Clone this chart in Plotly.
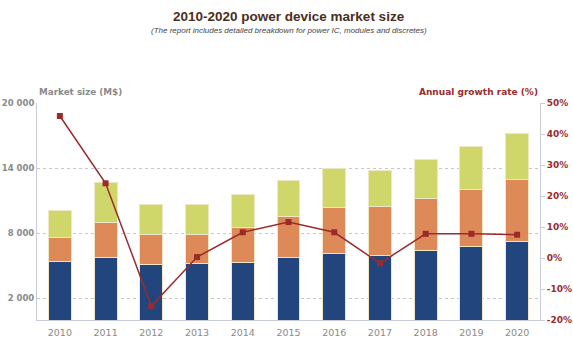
import plotly.graph_objects as go

years = ["2010", "2011", "2012", "2013", "2014", "2015", "2016", "2017", "2018", "2019", "2020"]
discretes = [5430, 5740, 5130, 5190, 5340, 5800, 6140, 5985, 6415, 6810, 7210]
modules = [2150, 3275, 2760, 2700, 3160, 3770, 4260, 4435, 4785, 5210, 5730]
power_ic = [2540, 3625, 2750, 2750, 3060, 3280, 3550, 3350, 3580, 3980, 4290]
growth = [45.8, 24.1, -15.5, 0.3, 8.3, 11.6, 8.3, -1.7, 7.8, 7.8, 7.5]

left_ticks = [2000, 8000, 14000, 20000]
left_ticktext = ["2 000", "8 000", "14 000", "20 000"]
right_ticks = [-20, -10, 0, 10, 20, 30, 40, 50]
right_ticktext = ["-20%", "-10%", "0%", "10%", "20%", "30%", "40%", "50%"]

blue = "#22457d"
orange = "#de8a58"
green = "#cfd66a"
red = "#9b2b2b"
sep = "#efe7c4"

fig = go.Figure()
for name, vals, col in [("Discretes", discretes, blue), ("Modules", modules, orange), ("Power IC", power_ic, green)]:
    fig.add_trace(go.Bar(x=years, y=vals, name=name, marker=dict(color=col, line=dict(color=sep, width=1)),
                         width=0.5, yaxis="y"))
fig.add_trace(go.Scatter(x=years, y=growth, yaxis="y2", mode="lines+markers",
                         line=dict(color=red, width=1.5),
                         marker=dict(symbol="square", size=6, color=red), name="Growth"))

T, B = 103, 22
ph = 342 - T - B

fig.update_layout(
    width=573, height=342,
    margin=dict(l=37, r=33, t=T, b=B, autoexpand=False),
    barmode="stack",
    showlegend=False,
    plot_bgcolor="white", paper_bgcolor="white",
    font=dict(family="DejaVu Sans", size=10, color="#808080"),
    xaxis=dict(type="category", range=[-0.5, 10.5], showline=True, linecolor="#c8ccd8", linewidth=1,
               ticks="", automargin=False, ticklabelstandoff=4,
               tickfont=dict(family="DejaVu Sans", size=9.5, color="#8a8a8a"), showgrid=False),
    yaxis=dict(range=[0, 20000], tickvals=left_ticks, ticktext=left_ticktext, showline=True, automargin=False,
               linecolor="#c8ccd8", linewidth=1, showgrid=True, gridcolor="#c8c8c8", griddash="dot",
               tickfont=dict(family="DejaVu Sans", size=8.5, color="#8a8a8a", weight="bold"),
               ticks="", zeroline=False),
    yaxis2=dict(range=[-20, 50], overlaying="y", side="right", tickvals=right_ticks, ticktext=right_ticktext,
                showline=True, linecolor="#c8ccd8", linewidth=1, showgrid=False, zeroline=False, automargin=False,
                ticks="outside", ticklen=4, tickcolor="#c8ccd8",
                tickfont=dict(family="DejaVu Sans", size=9, color=red, weight="bold")),
    annotations=[
        dict(text="<b>2010-2020 power device market size</b>", x=0.5, y=1 + (T - 16) / ph, xref="paper",
             yref="paper", yanchor="middle", showarrow=False,
             font=dict(family="Liberation Sans", size=13.5, color="#4a2e1e")),
        dict(text="<i>(The report includes detailed breakdown for power IC, modules and discretes)</i>",
             x=0.5, y=1 + (T - 30) / ph, xref="paper", yref="paper", yanchor="middle", showarrow=False,
             font=dict(family="Liberation Sans", size=8, color="#444444")),
        dict(text="<b>Market size (M$)</b>", x=0, y=1, xref="paper", yref="paper", xanchor="left",
             yanchor="bottom", yshift=4, showarrow=False, font=dict(family="DejaVu Sans", size=8.8, color="#8a8a8a")),
        dict(text="<b>Annual growth rate (%)</b>", x=1, y=1, xref="paper", yref="paper", xanchor="right",
             yanchor="bottom", yshift=4, showarrow=False, font=dict(family="DejaVu Sans", size=9, color=red)),
    ],
)

fig.write_html("out.html")
